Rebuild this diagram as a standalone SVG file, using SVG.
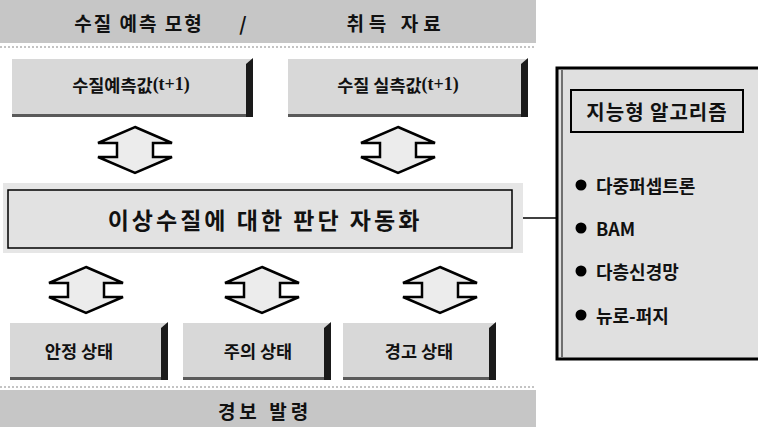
<svg xmlns="http://www.w3.org/2000/svg" width="758" height="427" viewBox="0 0 758 427">
<style>
text{font-family:"Noto Sans CJK KR","Noto Sans",sans-serif;font-weight:bold;fill:#111;text-anchor:middle;dominant-baseline:central}
.banner{fill:#c6c6c6}
.dots{stroke:#888;stroke-width:1;stroke-dasharray:2 2}
.btn{fill:#d8d8d8}
.bev{fill:#1a1a1a}
.bot{fill:#5a5a5a}
.arr{fill:#ececec;stroke:#000;stroke-width:2.5;stroke-linejoin:miter}
.serif{font-family:"Liberation Serif",serif}
.item{text-anchor:start;font-size:18px}
</style>
<defs>
<polygon id="dbl" class="arr" points="0,-23 37,-7 18,-7 18,7 37,7 0,23 -37,7 -18,7 -18,-7 -37,-7"/>
</defs>

<g id="top-banner">
<rect class="banner" x="0" y="0" width="536" height="43"/>
<line class="dots" x1="0" y1="47" x2="536" y2="47"/>
<text x="139" y="22" font-size="19" letter-spacing="2">수질 예측 모형</text>
<text x="243" y="22" font-size="19">/</text>
<text x="396" y="22" font-size="19" letter-spacing="5">취득 자료</text>
</g>

<g id="pred">
<rect class="btn" x="12" y="59" width="241" height="58"/>
<polygon class="bev" points="246,64 253,58 253,117 246,117"/>
<polygon class="bot" points="12,114 246,114 246,117 12,117"/>
<text x="131" y="84" font-size="17.5">수질예측값<tspan class="serif" font-size="18">(t+1)</tspan></text>
</g>

<g id="meas">
<rect class="btn" x="288" y="59" width="240" height="58"/>
<polygon class="bev" points="521,64 528,58 528,117 521,117"/>
<polygon class="bot" points="288,114 521,114 521,117 288,117"/>
<text x="398" y="84" font-size="17.5">수질 실측값<tspan class="serif" font-size="18">(t+1)</tspan></text>
</g>

<g id="connectors">
<use href="#dbl" x="135" y="150"/>
<use href="#dbl" x="398" y="150"/>
<use href="#dbl" x="86" y="290"/>
<use href="#dbl" x="262" y="290"/>
<use href="#dbl" x="440" y="290"/>
<line x1="522" y1="218" x2="557" y2="218" stroke="#000" stroke-width="1.5"/>
</g>

<g id="judge">
<rect x="3" y="183" width="520" height="70" fill="#e6e6e6"/>
<rect x="8" y="190" width="504" height="58" fill="#e2e2e2" stroke="#000" stroke-width="1.5"/>
<text x="265" y="219" font-size="23" letter-spacing="3">이상수질에 대한 판단 자동화</text>
</g>

<g id="stable">
<rect class="btn" x="10" y="323" width="158" height="57"/>
<polygon class="bev" points="161,328 168,322 168,380 161,380"/>
<polygon class="bot" points="10,377 161,377 161,380 10,380"/>
<text x="79" y="350" font-size="17.5">안정 상태</text>
</g>

<g id="caution">
<rect class="btn" x="183" y="323" width="148" height="57"/>
<polygon class="bev" points="324,328 331,322 331,380 324,380"/>
<polygon class="bot" points="183,377 324,377 324,380 183,380"/>
<text x="258" y="350" font-size="17.5">주의 상태</text>
</g>

<g id="warning">
<rect class="btn" x="343" y="323" width="153" height="57"/>
<polygon class="bev" points="489,328 496,322 496,380 489,380"/>
<polygon class="bot" points="343,377 489,377 489,380 343,380"/>
<text x="419" y="350" font-size="17.5">경고 상태</text>
</g>

<g id="alarm">
<line class="dots" x1="0" y1="387" x2="536" y2="387"/>
<rect class="banner" x="0" y="390" width="536" height="37"/>
<text x="265" y="410" font-size="19" letter-spacing="4">경보 발령</text>
</g>

<g id="algo">
<rect x="557" y="68" width="205" height="291" fill="#e0e0e0" stroke="#000" stroke-width="3"/>
<line x1="562" y1="70" x2="562" y2="357" stroke="#000" stroke-width="1"/>
<rect x="571" y="90" width="172" height="42" fill="#dcdcdc" stroke="#000" stroke-width="2"/>
<text x="657" y="111" font-size="20" letter-spacing="1">지능형 알고리즘</text>
<circle cx="581" cy="185" r="5.5" fill="#000"/>
<text class="item" x="596" y="185">다중퍼셉트론</text>
<circle cx="581" cy="228" r="5.5" fill="#000"/>
<text class="item" x="596" y="228">BAM</text>
<circle cx="581" cy="271" r="5.5" fill="#000"/>
<text class="item" x="596" y="271">다층신경망</text>
<circle cx="581" cy="315" r="5.5" fill="#000"/>
<text class="item" x="596" y="315">뉴로-퍼지</text>
</g>
</svg>
